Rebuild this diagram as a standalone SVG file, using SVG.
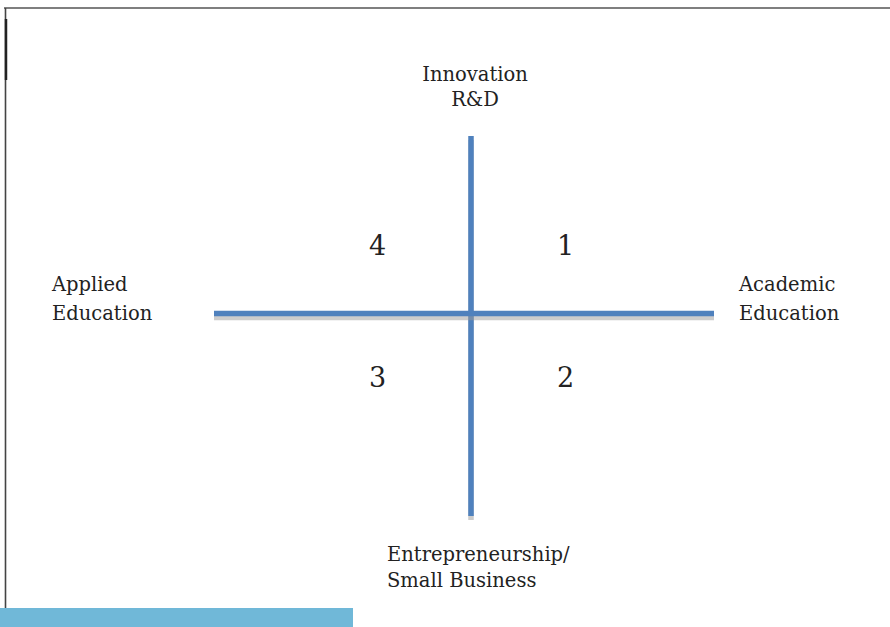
<svg xmlns="http://www.w3.org/2000/svg" width="890" height="627" viewBox="0 0 890 627">
<style>
.t{font-family:"DejaVu Serif","Liberation Serif",serif;font-size:19.5px;fill:#222}
.n{font-family:"DejaVu Serif","Liberation Serif",serif;font-size:27px;fill:#222}
.ax{stroke:#4f81bd;stroke-width:5.5;fill:none}
.sh{stroke:#999;stroke-opacity:0.5;stroke-width:5.5;fill:none}
</style>
<rect width="890" height="627" fill="#fff"/>
<g id="frame">
<line x1="4" y1="8" x2="890" y2="8" stroke="#555" stroke-width="1.6"/>
<line x1="5.5" y1="8" x2="5.5" y2="627" stroke="#444" stroke-width="1.6"/>
<line x1="6" y1="19" x2="6" y2="80" stroke="#222" stroke-width="2.5"/>
<rect x="0" y="608" width="353" height="19" fill="#70b8d8"/>
</g>
<g id="connectors">
<line class="sh" x1="471" y1="140" x2="471" y2="520"/>
<line class="ax" x1="471" y1="136" x2="471" y2="516"/>
<line class="sh" x1="214" y1="317.5" x2="714" y2="317.5"/>
<line class="ax" x1="214" y1="313.5" x2="714" y2="313.5"/>
</g>
<g id="top"><text class="t" x="475" y="81" text-anchor="middle">Innovation</text><text class="t" x="475" y="106" text-anchor="middle">R&amp;D</text></g>
<g id="left"><text class="t" x="52" y="291">Applied</text><text class="t" x="52" y="320">Education</text></g>
<g id="right"><text class="t" x="739" y="291">Academic</text><text class="t" x="739" y="320">Education</text></g>
<g id="bottom"><text class="t" x="387" y="561">Entrepreneurship/</text><text class="t" x="387" y="587">Small Business</text></g>
<g id="q4"><text class="n" x="369" y="255">4</text></g>
<g id="q1"><text class="n" x="557" y="255">1</text></g>
<g id="q3"><text class="n" x="369" y="387">3</text></g>
<g id="q2"><text class="n" x="557" y="387">2</text></g>
</svg>
